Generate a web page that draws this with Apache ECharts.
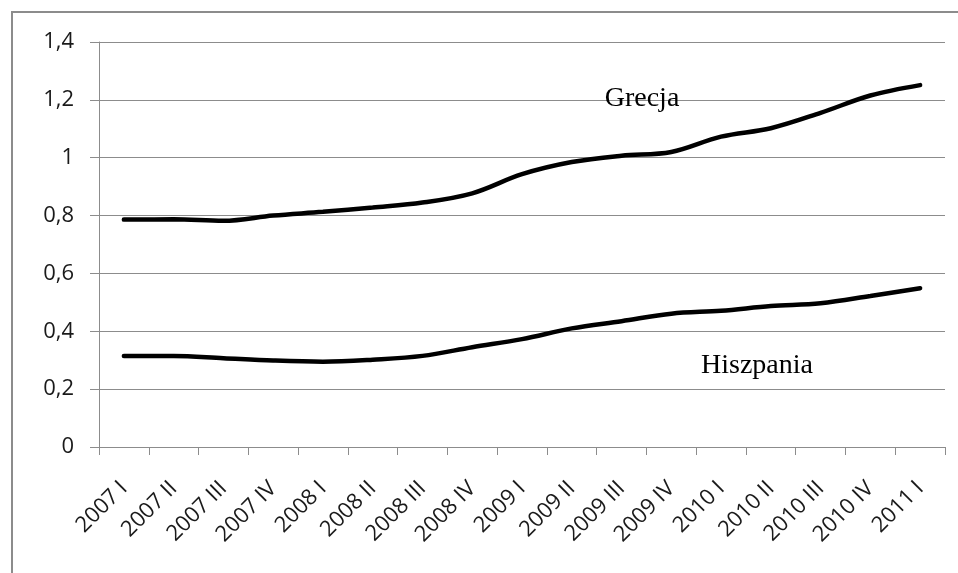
<!DOCTYPE html>
<html>
<head>
<meta charset="utf-8">
<script src="https://cdn.jsdelivr.net/npm/echarts@6/dist/echarts.min.js"></script>
<style>
  html, body { margin: 0; padding: 0; background: #fff; }
  #chart { width: 958px; height: 573px; }
</style>
</head>
<body>
<div id="chart"></div>
<script>
// kwartały
const categories = ['2007 I', '2007 II', '2007 III', '2007 IV', '2008 I', '2008 II', '2008 III', '2008 IV',
  '2009 I', '2009 II', '2009 III', '2009 IV', '2010 I', '2010 II', '2010 III', '2010 IV', '2011 I'];

// wartości
const grecja = [0.786, 0.787, 0.782, 0.800, 0.813, 0.828, 0.845, 0.877,
  0.943, 0.985, 1.007, 1.020, 1.073, 1.102, 1.155, 1.215, 1.251];
const hiszpania = [0.315, 0.315, 0.307, 0.299, 0.295, 0.302, 0.315, 0.345,
  0.373, 0.410, 0.435, 0.461, 0.471, 0.487, 0.497, 0.522, 0.549];

const yTicks = { min: 0, max: 1.4, interval: 0.2 };

const myChart = echarts.init(document.getElementById('chart'));
const gray = '#8c8c8c';

const option = {
  animation: false,
  backgroundColor: '#fff',
  grid: { left: 99, right: 13, top: 42, bottom: 126, containLabel: false },
  xAxis: {
    type: 'category',
    data: categories,
    boundaryGap: true,
    axisLine: { lineStyle: { color: gray, width: 1 } },
    axisTick: { show: true, length: 8, alignWithLabel: false, lineStyle: { color: gray } },
    axisLabel: {
      rotate: 45,
      interval: 0,
      margin: 38,
      fontFamily: 'Open Sans',
      fontSize: 22,
      color: '#1a1a1a'
    },
    splitLine: { show: false }
  },
  yAxis: {
    type: 'value',
    min: yTicks.min,
    max: yTicks.max,
    interval: yTicks.interval,
    axisLine: { show: true, lineStyle: { color: gray, width: 1 } },
    axisTick: { show: true, length: 9, lineStyle: { color: gray } },
    axisLabel: {
      margin: 25,
      fontFamily: 'Open Sans',
      fontSize: 22,
      color: '#1a1a1a',
      formatter: (v) => String(Math.round(v * 10) / 10).replace('.', ',')
    },
    splitLine: { lineStyle: { color: gray, width: 1 } }
  },
  series: [
    {
      name: 'Grecja',
      type: 'line',
      data: grecja,
      smooth: 0.35,
      showSymbol: false,
      lineStyle: { color: '#000', width: 4.5, cap: 'round' }
    },
    {
      name: 'Hiszpania',
      type: 'line',
      data: hiszpania,
      smooth: 0.35,
      showSymbol: false,
      lineStyle: { color: '#000', width: 4.5, cap: 'round' }
    }
  ],
  graphic: [
    {
      type: 'rect',
      shape: { x: 12, y: 12, width: 980, height: 600 },
      style: { fill: 'none', stroke: gray, lineWidth: 2 },
      silent: true,
      z: 100
    },
    {
      type: 'text',
      x: 642, y: 99,
      style: {
        text: 'Grecja',
        fontFamily: 'Liberation Serif',
        fontSize: 28,
        fill: '#000',
        align: 'center',
        verticalAlign: 'middle'
      },
      z: 100
    },
    {
      type: 'text',
      x: 757, y: 366,
      style: {
        text: 'Hiszpania',
        fontFamily: 'Liberation Serif',
        fontSize: 28,
        fill: '#000',
        align: 'center',
        verticalAlign: 'middle'
      },
      z: 100
    }
  ]
};

option && myChart.setOption(option);
window.addEventListener('resize', myChart.resize);
</script>
</body>
</html>
